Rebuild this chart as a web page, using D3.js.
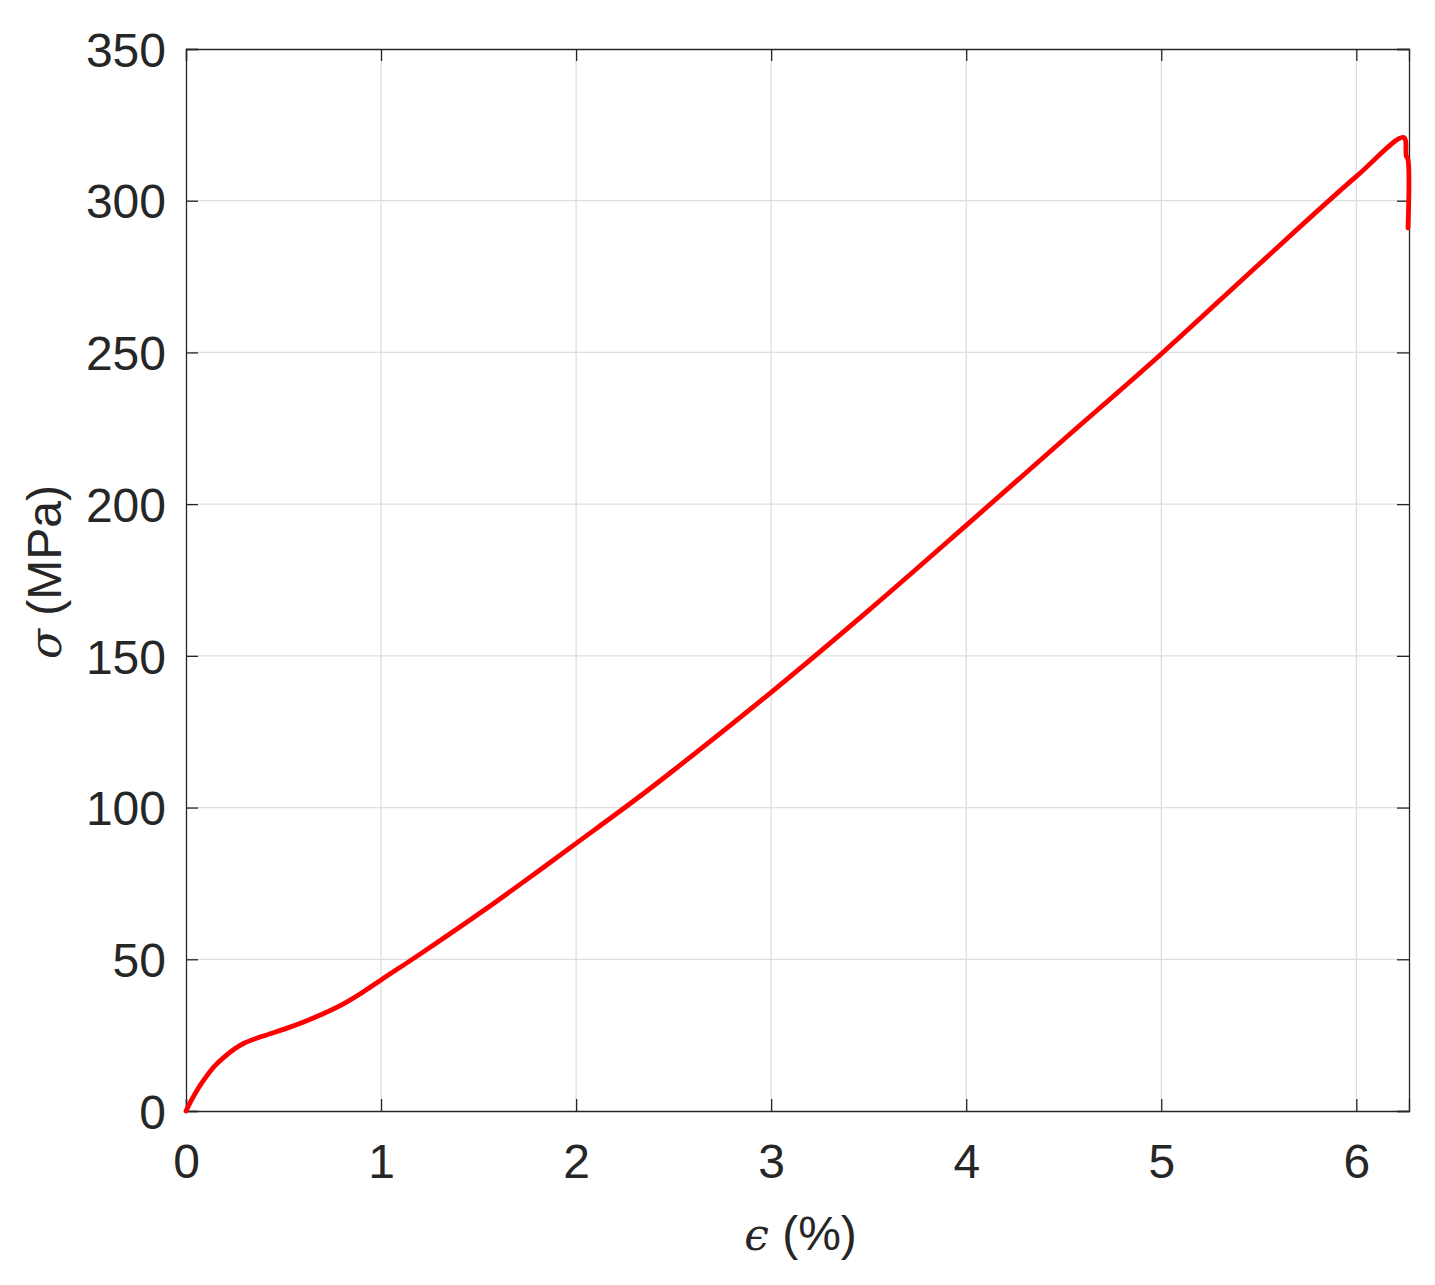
<!DOCTYPE html>
<html>
<head>
<meta charset="utf-8">
<script src="https://cdn.jsdelivr.net/npm/d3@7"></script>
<style>
  html, body { margin: 0; padding: 0; background: #fff; }
  svg { display: block; }
</style>
</head>
<body>
<svg id="chart" width="1435" height="1285"></svg>
<script>
// strain (%) and stress (MPa)
const strain = [0, 0.03, 0.06, 0.1, 0.15, 0.2, 0.25, 0.3, 0.4, 0.5, 0.6, 0.7, 0.8, 0.9, 1.0, 1.2, 1.5, 1.75, 2.0, 2.3, 2.5, 3.0, 3.5, 4.0, 4.5, 5.0, 5.5, 6.0, 6.243, 6.256, 6.265, 6.265];
const stress = [0, 3.8, 7.2, 11, 15, 18, 20.5, 22.4, 24.8, 26.9, 29.25, 31.95, 35.05, 38.9, 43.2, 51.7, 64.9, 76.4, 88.2, 102.4, 112.3, 138, 165, 193, 221.3, 249.5, 279, 308, 320.8, 314.8, 313.5, 291];
const xTicks = [0, 1, 2, 3, 4, 5, 6];
const yTicks = [0, 50, 100, 150, 200, 250, 300, 350];
const xDomain = [0, 6.27];
const yDomain = [0, 350];
const xLabel = "(%)";
const yLabel = "(MPa)";

const svg = d3.select("#chart");
const L = 186, R = 1409, T = 49, B = 1111;
const x = d3.scaleLinear().domain(xDomain).range([L, R]);
const y = d3.scaleLinear().domain(yDomain).range([B, T]);
const font = "'Liberation Sans', Arial, Helvetica, sans-serif";
const textCol = "#262626";
const tickLen = 12;

// grid
const grid = svg.append("g");
grid.selectAll("line.gx").data(xTicks.slice(1)).join("line")
  .attr("x1", d => x(d)).attr("x2", d => x(d)).attr("y1", T).attr("y2", B)
  .attr("stroke", "#dedede").attr("stroke-width", 1.3);
grid.selectAll("line.gy").data(yTicks.slice(1, -1)).join("line")
  .attr("x1", L).attr("x2", R).attr("y1", d => y(d)).attr("y2", d => y(d))
  .attr("stroke", "#dedede").attr("stroke-width", 1.3);

// axes with inner ticks
const axB = d3.axisBottom(x).tickValues(xTicks).tickSize(-tickLen).tickPadding(32).tickFormat(d3.format("d"));
const axL = d3.axisLeft(y).tickValues(yTicks).tickSize(-tickLen).tickPadding(20).tickFormat(d3.format("d"));
const axT = d3.axisTop(x).tickValues(xTicks).tickSize(-tickLen).tickFormat("");
const axR = d3.axisRight(y).tickValues(yTicks).tickSize(-tickLen).tickFormat("");

function style(g) {
  g.select(".domain").attr("stroke", textCol).attr("stroke-width", 1.3);
  g.selectAll(".tick line").attr("stroke", textCol).attr("stroke-width", 1.3);
  g.selectAll(".tick text").attr("fill", textCol).attr("font-family", font).attr("font-size", 48);
}
svg.append("g").attr("transform", `translate(0,${B})`).call(axB).call(style)
  .selectAll(".tick text").attr("dy", "0.72em");
svg.append("g").attr("transform", `translate(${L},0)`).call(axL).call(style)
  .selectAll(".tick text").attr("dy", "0.36em");
svg.append("g").attr("transform", `translate(0,${T})`).call(axT).call(style);
svg.append("g").attr("transform", `translate(${R},0)`).call(axR).call(style);

// curve
const pts = strain.map((e, i) => [e, stress[i]]);
const line = d3.line().x(d => x(d[0])).y(d => y(d[1])).curve(d3.curveCatmullRom.alpha(0.5));
svg.append("path").datum(pts).attr("d", line)
  .attr("fill", "none").attr("stroke", "#ff0000").attr("stroke-width", 4.8)
  .attr("stroke-linejoin", "round").attr("stroke-linecap", "round");

// axis labels
const xl = svg.append("text").attr("x", (L + R) / 2 + 3).attr("y", 1250)
  .attr("text-anchor", "middle").attr("font-family", font).attr("font-size", 48).attr("fill", textCol);
xl.append("tspan").attr("font-family", "'DejaVu Serif', serif").attr("font-style", "italic").attr("font-size", 44).text("\u03F5");
xl.append("tspan").text(" " + xLabel);

const yl = svg.append("text").attr("transform", `translate(61,${(T + B) / 2 - 8}) rotate(-90)`)
  .attr("text-anchor", "middle").attr("font-family", font).attr("font-size", 48).attr("fill", textCol);
yl.append("tspan").attr("font-family", "'DejaVu Serif', serif").attr("font-style", "italic").attr("font-size", 44).text("\u03C3");
yl.append("tspan").text(" " + yLabel);
</script>
</body>
</html>
